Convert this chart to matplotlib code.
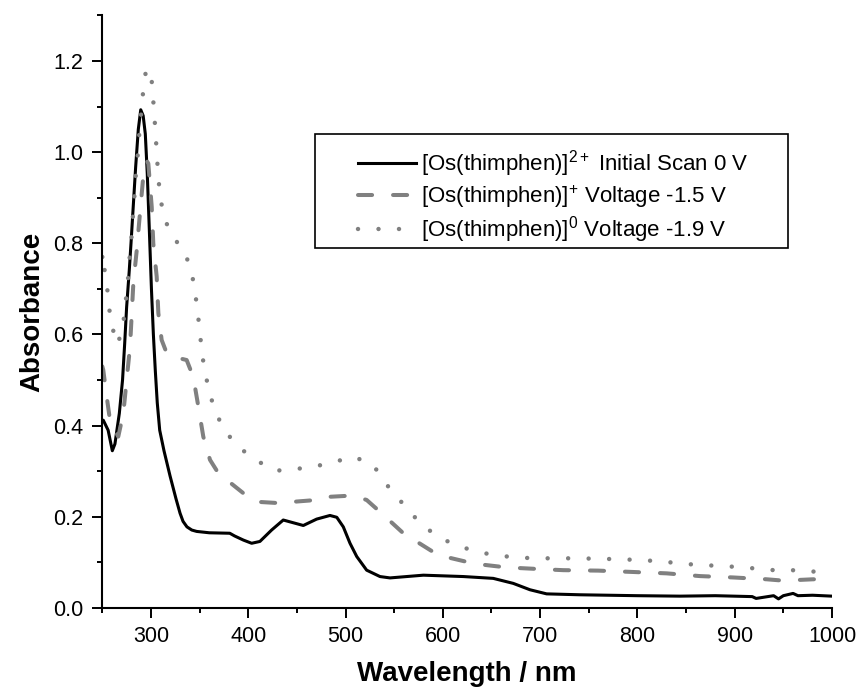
import matplotlib
matplotlib.use("Agg")
import matplotlib.pyplot as plt
from matplotlib.ticker import MultipleLocator, FormatStrFormatter
from matplotlib.patches import Rectangle

plt.rcParams["font.family"] = ["Liberation Sans", "DejaVu Sans"]
plt.rcParams["mathtext.fontset"] = "custom"
plt.rcParams["mathtext.rm"] = "Liberation Sans"
plt.rcParams["mathtext.it"] = "Liberation Sans:italic"
plt.rcParams["mathtext.bf"] = "Liberation Sans:bold"

# Initial scan, 0 V
wl_initial = [250, 251, 256, 260.3, 263, 265, 267.5, 270.8, 273, 275, 277.7, 279.5, 281.2,
              284.3, 287, 289.5, 292, 294.2, 296.2, 298.5, 300.5, 302.5, 304.5, 306.5, 309,
              313.4, 319.6, 325.7, 329.9, 333, 337, 342, 347, 360, 381, 386, 395, 403.5,
              412, 424, 436, 446.3, 456.6, 470.3, 484, 491, 497.7, 504.6, 511.5, 521.7,
              535.4, 545.7, 580, 621, 651.8, 672.4, 689.6, 706.7, 741, 800, 843.7, 880,
              918, 922, 940, 945, 950, 960, 965, 980, 1000]
abs_initial = [0.41, 0.412, 0.39, 0.345, 0.36, 0.39, 0.427, 0.50, 0.58, 0.66, 0.74, 0.80,
               0.86, 0.968, 1.05, 1.093, 1.08, 1.04, 0.954, 0.82, 0.70, 0.60, 0.52, 0.45,
               0.39, 0.345, 0.29, 0.24, 0.208, 0.19, 0.178, 0.171, 0.168, 0.165, 0.164,
               0.158, 0.149, 0.142, 0.146, 0.171, 0.193, 0.187, 0.181, 0.195, 0.203, 0.199,
               0.178, 0.142, 0.113, 0.083, 0.069, 0.066, 0.072, 0.069, 0.065, 0.054, 0.04,
               0.031, 0.029, 0.027, 0.026, 0.027, 0.025, 0.021, 0.027, 0.020, 0.027, 0.032,
               0.027, 0.028, 0.026]

# Reduced form, -1.5 V
wl_minus15 = [250, 251, 254.5, 257.9, 266.4, 271.6, 275, 278.5, 281.9, 285.4, 288.7, 292.1,
              296, 297.3, 300.8, 302.4, 305.9, 307.6, 311, 316.2, 323, 336.7, 343.5, 348.7,
              353.8, 360.7, 369.2, 377.9, 394.9, 408.7, 432.6, 446.3, 470.3, 484, 501.2,
              510, 521.7, 535.4, 559.4, 595.3, 633, 665.6, 703.2, 723.8, 759.8, 795.7, 830,
              864.3, 898.5, 932.8, 950, 980.7, 1000]
abs_minus15 = [0.53, 0.522, 0.464, 0.412, 0.376, 0.427, 0.50, 0.573, 0.712, 0.785, 0.866,
               0.946, 0.98, 0.975, 0.88, 0.80, 0.727, 0.647, 0.588, 0.559, 0.551, 0.544,
               0.507, 0.442, 0.376, 0.325, 0.296, 0.281, 0.252, 0.233, 0.23, 0.233, 0.237,
               0.244, 0.246, 0.245, 0.237, 0.211, 0.164, 0.116, 0.097, 0.089, 0.085, 0.083,
               0.082, 0.079, 0.076, 0.07, 0.067, 0.063, 0.06, 0.063, 0.062]

# Fully reduced form, -1.9 V
wl_minus19 = [250, 251, 252.8, 256.2, 257.9, 263, 266, 271.6, 276.1, 277.7, 279.8, 281.2,
              282.9, 284.3, 286.4, 288, 292.1, 294.9, 297.5, 300, 301.8, 303.4, 304.9, 306.2,
              307.6, 310, 314.4, 324.7, 335.7, 342.5, 346, 348.7, 351.1, 353.8, 357.9, 363.5,
              372.7, 387.1, 406.6, 427.5, 449.8, 471.4, 486.1, 508, 527.9, 543.3, 560.4,
              578.9, 599.4, 621.7, 643.3, 660.5, 682.7, 704, 738.6, 782, 804.4, 826, 846.5,
              867.7, 888.2, 909.5, 929.3, 945.8, 962.9, 980.7, 998.6, 1000]
abs_minus19 = [0.77, 0.778, 0.73, 0.684, 0.64, 0.592, 0.578, 0.625, 0.712, 0.76, 0.806,
               0.853, 0.90, 0.946, 0.994, 1.04, 1.136, 1.18, 1.182, 1.177, 1.13, 1.084,
               1.036, 0.99, 0.943, 0.895, 0.85, 0.809, 0.776, 0.729, 0.683, 0.636, 0.588,
               0.54, 0.494, 0.448, 0.40, 0.358, 0.326, 0.301, 0.305, 0.312, 0.319, 0.332,
               0.315, 0.268, 0.225, 0.181, 0.151, 0.132, 0.12, 0.114, 0.11, 0.109, 0.109,
               0.107, 0.105, 0.102, 0.097, 0.094, 0.092, 0.089, 0.085, 0.082, 0.083, 0.08,
               0.078, 0.078]

series_labels = [r"[Os(thimphen)]$^{\mathregular{2+}}$ Initial Scan 0 V",
                 r"[Os(thimphen)]$^{\mathregular{+}}$ Voltage -1.5 V",
                 r"[Os(thimphen)]$^{\mathregular{0}}$ Voltage -1.9 V"]

x_range = (250, 1000)
y_range = (0, 1.3)

W, H = 861, 695
fig = plt.figure(figsize=(W / 100, H / 100), dpi=100)
ax = fig.add_axes([102.3 / W, (H - 608) / H, (832 - 102.3) / W, (608 - 15.4) / H])

gray = "#808080"
l1, = ax.plot(wl_initial, abs_initial, color="black", lw=2.2, solid_joinstyle="round",
              label=series_labels[0])
l2, = ax.plot(wl_minus15, abs_minus15, color=gray, lw=2.9, linestyle=(0, (3.5, 5.2)),
              dash_capstyle="round", label=series_labels[1])
l3, = ax.plot(wl_minus19, abs_minus19, color=gray, lw=3.2, linestyle=(0, (0.01, 4.6)),
              dash_capstyle="round", label=series_labels[2])

ax.set_xlim(*x_range)
ax.set_ylim(*y_range)
ax.xaxis.set_major_locator(MultipleLocator(100))
ax.xaxis.set_minor_locator(MultipleLocator(50))
ax.yaxis.set_major_locator(MultipleLocator(0.2))
ax.yaxis.set_minor_locator(MultipleLocator(0.1))
ax.yaxis.set_major_formatter(FormatStrFormatter("%.1f"))

for side in ("top", "right"):
    ax.spines[side].set_visible(False)
for side in ("left", "bottom"):
    ax.spines[side].set_linewidth(1.5)
ax.tick_params(which="major", direction="out", length=7, width=1.4, labelsize=15.5)
ax.tick_params(which="minor", direction="out", length=3.5, width=1.4)
ax.tick_params(axis="x", which="major", pad=6)
ax.tick_params(axis="y", which="major", pad=6.5)

ax.set_xlabel("Wavelength / nm", fontsize=20, fontweight="bold")
ax.set_ylabel("Absorbance", fontsize=20, fontweight="bold")
ax.xaxis.set_label_coords(0.5, -0.09)
ax.yaxis.set_label_coords(-0.0785, 0.5)

# legend: frame drawn separately so the handles can sit well inside it
fig.add_artist(Rectangle((315 / W, (H - 248) / H), (788 - 315) / W, (248 - 134) / H,
                         transform=fig.transFigure, fill=False, edgecolor="black", lw=1.2))
ax.legend(handles=[l1, l2, l3], loc="upper left", frameon=False,
          bbox_to_anchor=(358 / W, (H - 148) / H), bbox_transform=fig.transFigure,
          borderpad=0, borderaxespad=0, handlelength=2.6, handletextpad=0.25,
          labelspacing=0.2, fontsize=16)

fig.savefig("out.png", dpi=100)
